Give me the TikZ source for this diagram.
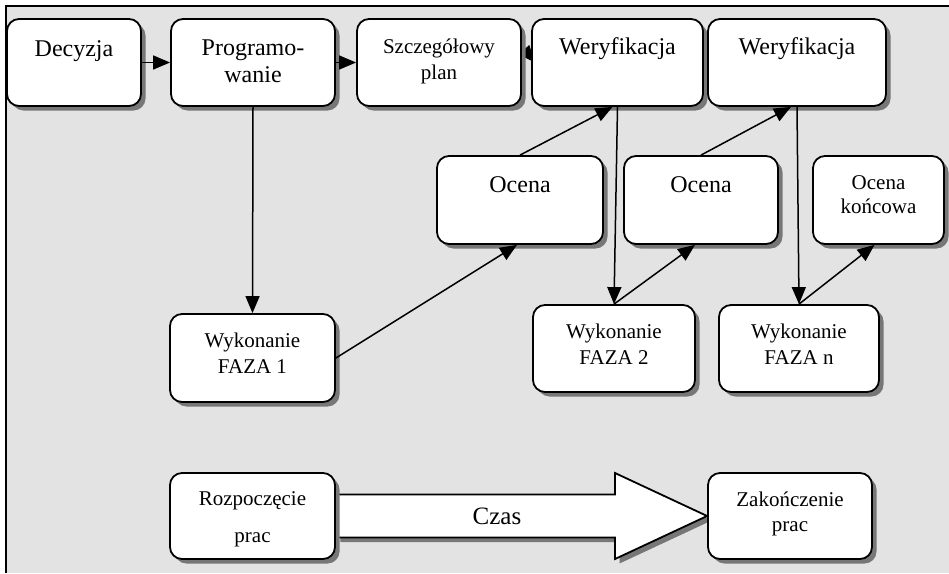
\documentclass[tikz,border=0pt]{standalone}
\usepackage{fontspec}
\setmainfont{Liberation Serif}
\usetikzlibrary{arrows.meta,shadows,calc}
\pgfdeclarelayer{back}
\pgfsetlayers{back,main}
\definecolor{bggray}{HTML}{E3E3E3}
\definecolor{shgray}{HTML}{777777}
\newcommand{\mkbox}[5]{\node[bx, minimum width={(#4-#2)*1pt}, minimum height={(#5-#3)*1pt}] (#1) at ({(#2+#4)/2},{(#3+#5)/2}) {};}
\newcommand{\boxline}[4]{\node[txt,#1] at ([yshift=-#3pt]#2.north) {#4};}
\begin{document}
\begin{tikzpicture}[x=1pt,y=-1pt,
  bx/.style={draw, line width=1.8pt, rounded corners=12pt, fill=white, inner sep=0pt,
    drop shadow={shadow xshift=4.5pt, shadow yshift=-4.5pt, fill=shgray, opacity=1}},
  txt/.style={inner sep=0pt, anchor=base},
  fa/.style={font=\fontsize{24pt}{28pt}\selectfont},
  fb/.style={font=\fontsize{21pt}{25pt}\selectfont},
  conn/.style={line width=1.5pt, -{Triangle[length=17pt,width=14pt]}},
  bigarr/.style={draw, line width=1.8pt, fill=white, line join=miter,
    drop shadow={shadow xshift=4.5pt, shadow yshift=-4.5pt, fill=shgray, opacity=1}}]
\useasboundingbox (0,0) rectangle (949,573);
\begin{pgfonlayer}{back}
  \fill[bggray] (5.5,5.5) rectangle (949,573);
  \draw[line width=2pt] (5.5,573) -- (5.5,5.5) -- (949,5.5);
\end{pgfonlayer}

% boxes
\mkbox{dec}{7}{19}{141}{106}
\mkbox{prog}{171}{19}{335}{106}
\mkbox{szcz}{357}{19}{521}{106}
\mkbox{wer1}{532}{19}{703}{106}
\mkbox{wer2}{708}{19}{886}{106}
\mkbox{oc1}{437}{156}{603}{244}
\mkbox{oc2}{624}{156}{778}{244}
\mkbox{ock}{813}{156}{944}{244}
\mkbox{f1}{170}{314}{335}{402}
\mkbox{f2}{533}{305}{695}{392}
\mkbox{fn}{719}{305}{879}{392}
\mkbox{roz}{170}{473}{335}{559}
\mkbox{zak}{708}{473}{872}{559}

% texts
\boxline{fa}{dec}{38}{Decyzja}
\boxline{fa}{prog}{37}{Programo-}
\boxline{fa}{prog}{64}{wanie}
\boxline{fb}{szcz}{35}{Szczegółowy}
\boxline{fb}{szcz}{61}{plan}
\boxline{fa}{wer1}{36}{Weryfikacja}
\boxline{fa}{wer2}{36}{Weryfikacja}
\boxline{fa}{oc1}{37}{Ocena}
\boxline{fa}{oc2}{37}{Ocena}
\boxline{fb}{ock}{34}{Ocena}
\boxline{fb}{ock}{58}{końcowa}
\boxline{fb}{f1}{34}{Wykonanie}
\boxline{fb}{f1}{60}{FAZA 1}
\boxline{fb}{f2}{34}{Wykonanie}
\boxline{fb}{f2}{60}{FAZA 2}
\boxline{fb}{fn}{34}{Wykonanie}
\boxline{fb}{fn}{60}{FAZA n}
\boxline{fb}{roz}{33}{Rozpoczęcie}
\boxline{fb}{roz}{70}{prac}
\boxline{fb}{zak}{34}{Zakończenie}
\boxline{fb}{zak}{59}{prac}

% connectors
\draw[conn] (dec.east) -- (prog.west);
\draw[conn] (prog.east) -- (szcz.west);
\begin{pgfonlayer}{back}
  \draw[conn] ([yshift=15pt]szcz.east) -- ([xshift=4pt]wer1.west);
  \draw[bigarr] ($(roz.east)+(0,-21.5)$) -- (615,494.5) -- (615,473) -- (zak.west)
     -- (615,559) -- (615,537.5) -- ($(roz.east)+(0,21.5)$) -- cycle;
\end{pgfonlayer}
\node[txt, font=\fontsize{25pt}{29pt}\selectfont] (czas) at (497,524) {Czas};
\draw[conn] (prog.south) -- (f1.north);
\draw[conn] (f1.east) -- ([xshift=-3pt]oc1.south);
\draw[conn] (oc1.north) -- ([xshift=-5pt]wer1.south);
\draw[conn] (wer1.south) -- (f2.north);
\draw[conn] (f2.north) -- ([xshift=-6pt]oc2.south);
\draw[conn] (oc2.north) -- ([xshift=-6pt]wer2.south);
\draw[conn] (wer2.south) -- (fn.north);
\draw[conn] (fn.north) -- ([xshift=-4pt]ock.south);
\end{tikzpicture}
\end{document}
